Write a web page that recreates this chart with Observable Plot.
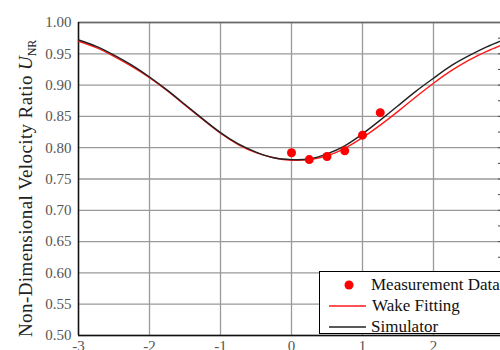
<!DOCTYPE html>
<html>
<head>
<meta charset="utf-8">
<script src="https://cdn.jsdelivr.net/npm/d3@7"></script>
<script src="https://cdn.jsdelivr.net/npm/@observablehq/plot@0.6"></script>
<style>
  html, body { margin: 0; padding: 0; background: white; overflow: hidden; }
  #wrap { position: relative; width: 500px; height: 350px; overflow: hidden; }
  #wrap > svg { max-width: none !important; position: absolute; left: 0; top: 0; }
  #wrap svg, #wrap svg text, #wrap svg tspan { font-family: 'Liberation Serif', 'Times New Roman', serif !important; }
  #legend { position: absolute; left: 319px; top: 271px; width: 200px; height: 63px;
            border: 1px solid #000; background: white; box-sizing: border-box; }
</style>
</head>
<body>
<div id="wrap"></div>
<script>
// ---- data ----
const positions = [-3, -2.75, -2.5, -2.25, -2, -1.75, -1.5, -1.25, -1, -0.75, -0.5, -0.25,
                   0, 0.25, 0.5, 0.75, 1, 1.25, 1.5, 1.75, 2, 2.25, 2.5, 2.75, 3];
const simulator = [0.972, 0.962, 0.948, 0.932, 0.913, 0.892, 0.869, 0.846, 0.824, 0.806, 0.793, 0.784,
                   0.781, 0.782, 0.790, 0.803, 0.822, 0.844, 0.867, 0.890, 0.911, 0.931, 0.947, 0.961, 0.973];
const wakeFitting = [0.970, 0.960, 0.946, 0.930, 0.912, 0.891, 0.868, 0.845, 0.823, 0.805, 0.792, 0.784,
                     0.780, 0.781, 0.787, 0.799, 0.816, 0.836, 0.858, 0.881, 0.903, 0.923, 0.940, 0.954, 0.966];
const measX = [0, 0.25, 0.5, 0.75, 1.0, 1.25];
const measY = [0.792, 0.781, 0.786, 0.795, 0.820, 0.856];
const xTicks = [-3, -2, -1, 0, 1, 2, 3];
const yTicks = [0.50, 0.55, 0.60, 0.65, 0.70, 0.75, 0.80, 0.85, 0.90, 0.95, 1.00];
const yMinor = d3.range(0.5, 1.0001, 0.025);
const legendLabels = ["Measurement Data", "Wake Fitting", "Simulator"];

const curves = positions.map((p, i) => ({x: p, sim: simulator[i], wake: wakeFitting[i]}));
const meas = measX.map((p, i) => ({x: p, y: measY[i]}));

const SERIF = "Liberation Serif";
const RED = "#ff1a1a";
const chart = Plot.plot({
  width: 520, height: 365,
  marginLeft: 78, marginRight: 16, marginTop: 22, marginBottom: 30,
  x: {domain: [-3, 3]},
  y: {domain: [0.5, 1]},
  style: {fontFamily: SERIF, fontSize: "15px", color: "#555", background: "white"},
  marks: [
    Plot.gridX(xTicks, {stroke: "#9a9a9a", strokeOpacity: 1, strokeWidth: 1.3}),
    Plot.gridY(yTicks, {stroke: "#9a9a9a", strokeOpacity: 1, strokeWidth: 1.3}),
    Plot.axisX(xTicks, {tickSize: 0, tickPadding: 5, tickFormat: d => String(d), label: null, fill: "#555"}),
    Plot.axisY(yTicks, {tickSize: 0, tickPadding: 7, tickFormat: d3.format(".2f"), label: null, fill: "#555"}),
    Plot.axisY(yMinor, {anchor: "right", tickSize: -7, tickFormat: () => "", label: null, stroke: "#444"}),
    Plot.ruleY([1.0], {stroke: "#666", strokeWidth: 1.3}),
    Plot.ruleX([-3], {stroke: "#111", strokeWidth: 1.5}),
    Plot.ruleY([0.5], {stroke: "#111", strokeWidth: 1.5}),
    Plot.line(curves, {x: "x", y: "wake", stroke: RED, strokeWidth: 1.4, curve: "natural"}),
    Plot.line(curves, {x: "x", y: "sim", stroke: "#222", strokeWidth: 1.4, curve: "natural"}),
    Plot.dot(meas, {x: "x", y: "y", r: 4.5, fill: "#ff0000", stroke: "none"})
  ]
});

const svg = d3.select(chart);

// y-axis title with italic U and subscript NR
const t = svg.append("text")
  .attr("transform", "translate(32,337) rotate(-90)")
  .attr("text-anchor", "start")
  .attr("font-size", 19)
  .attr("fill", "#222");
t.append("tspan").attr("letter-spacing", 0.4).text("Non-Dimensional Velocity Ratio ");
t.append("tspan").attr("font-style", "italic").text("U");
t.append("tspan").attr("font-size", 12).attr("dy", 4).text("NR");

const wrap = document.getElementById("wrap");
wrap.appendChild(chart);

// legend overlay
const leg = document.createElement("div");
leg.id = "legend";
leg.innerHTML = `<svg width="200" height="62" style="font-size:17px;fill:#111">
  <circle cx="29" cy="13" r="4.5" fill="#ff0000"></circle>
  <text x="51" y="18">${legendLabels[0]}</text>
  <line x1="9" x2="46" y1="34" y2="34" stroke="${RED}" stroke-width="1.4"></line>
  <text x="52" y="39">${legendLabels[1]}</text>
  <line x1="9" x2="46" y1="55" y2="55" stroke="#222" stroke-width="1.4"></line>
  <text x="51" y="60">${legendLabels[2]}</text>
</svg>`;
wrap.appendChild(leg);
</script>
</body>
</html>
